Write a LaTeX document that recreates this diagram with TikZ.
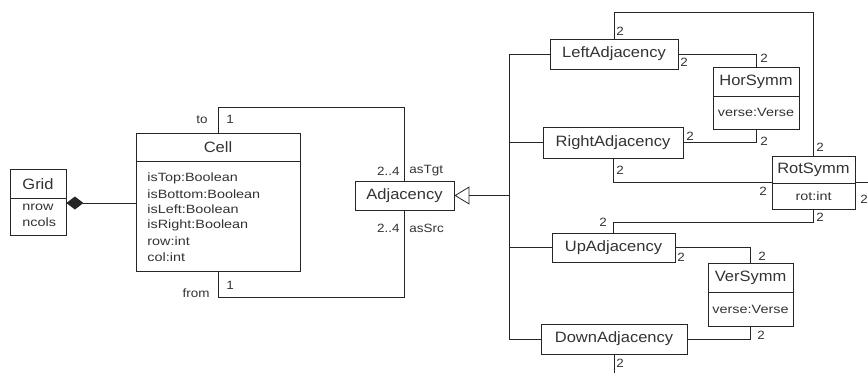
\documentclass[tikz,border=0pt]{standalone}
\usepackage{fontspec}
\setmainfont{Liberation Sans}
\newfontfamily\hdrfont[FakeStretch=1.1]{Liberation Sans}
\newfontfamily\attrfont[FakeStretch=1.2]{Liberation Sans}
\newfontfamily\multfont[FakeStretch=1.12]{Liberation Sans}
\usetikzlibrary{arrows.meta}
\begin{document}
\begin{tikzpicture}[x=1pt,y=-1pt, line width=0.8pt, draw=black!85,
  box/.style={draw, inner sep=0pt, fill=white},
  hdr/.style={font=\hdrfont\fontsize{15}{18}\selectfont, inner sep=0pt, text=black!80},
  attr/.style={font=\attrfont\fontsize{12}{14}\selectfont, inner sep=0pt, anchor=west, text=black!80},
  mult/.style={font=\multfont\fontsize{12}{14}\selectfont, inner sep=0pt, text=black!80},
  conn/.style={draw=black!85, line width=0.8pt}]
\useasboundingbox (0,0) rectangle (868,373);
\fill[white] (0,0) rectangle (868,373);

% ---------- boxes ----------
\node[box, minimum width=56pt, minimum height=66pt] (grid) at (38,202) {};
\node[box, minimum width=164pt, minimum height=138pt] (cell) at (218,202) {};
\node[box, minimum width=99pt, minimum height=29pt] (adj) at (404.5,195.5) {};
\node[box, minimum width=128pt, minimum height=30pt] (leftadj) at (614,54) {};
\node[box, minimum width=140pt, minimum height=31pt] (rightadj) at (613,142.5) {};
\node[box, minimum width=123pt, minimum height=29pt] (upadj) at (613.5,247.5) {};
\node[box, minimum width=146pt, minimum height=30pt] (downadj) at (614,339) {};
\node[box, minimum width=86pt, minimum height=62pt] (horsymm) at (756,98) {};
\node[box, minimum width=83pt, minimum height=53pt] (rotsymm) at (813.5,182.5) {};
\node[box, minimum width=85pt, minimum height=63pt] (versymm) at (750.5,294.5) {};

% compartment dividers
\draw[conn] (grid.west |- 0,198) -- (grid.east |- 0,198);
\draw[conn] (cell.west |- 0,161) -- (cell.east |- 0,161);
\draw[conn] (horsymm.west |- 0,96) -- (horsymm.east |- 0,96);
\draw[conn] (rotsymm.west |- 0,183) -- (rotsymm.east |- 0,183);
\draw[conn] (versymm.west |- 0,292) -- (versymm.east |- 0,292);

% ---------- texts in boxes ----------
\node[hdr] (tgrid) at (38,184) {Grid};
\node[attr] (tnrow) at (22,207) {nrow};
\node[attr] (tncols) at (22,222) {ncols};

\node[hdr] (tcell) at (218,147) {Cell};
\node[attr] (ca1) at (147,178) {isTop:Boolean};
\node[attr] (ca2) at (147,193.8) {isBottom:Boolean};
\node[attr] (ca3) at (147,209.6) {isLeft:Boolean};
\node[attr] (ca4) at (147,225.4) {isRight:Boolean};
\node[attr] (ca5) at (147,241.2) {row:int};
\node[attr] (ca6) at (147,257) {col:int};

\node[hdr] (tadj) at (adj) {Adjacency};
\node[hdr] (tleft) at (leftadj) {LeftAdjacency};
\node[hdr] (tright) at (rightadj) {RightAdjacency};
\node[hdr] (tup) at (upadj) {UpAdjacency};
\node[hdr] (tdown) at (downadj) {DownAdjacency};

\node[hdr] (thor) at (756,81.5) {HorSymm};
\node[attr, anchor=center] (thora) at (756,112.5) {verse:Verse};
\node[hdr] (trot) at (813.5,170) {RotSymm};
\node[attr, anchor=center] (trota) at (813.5,196) {rot:int};
\node[hdr] (tver) at (750.5,277.5) {VerSymm};
\node[attr, anchor=center] (tvera) at (750.5,309) {verse:Verse};

% ---------- connectors ----------
\draw[conn, -{Diamond[length=17pt,width=13pt]}] (cell.west |- 0,203) -- (grid.east |- 0,203);

\draw[conn] (cell.north) -- ++(0,-25) -| (adj.north);
\draw[conn] (cell.south) -- ++(0,26) -| (adj.south);

\coordinate (ttop) at (509,54);
\draw[conn] (leftadj.west) -- (leftadj.west -| ttop) -- (downadj.west -| ttop) -- (downadj.west);
\draw[conn] (rightadj.west) -- (rightadj.west -| ttop);
\draw[conn] (upadj.west) -- (upadj.west -| ttop);
\draw[conn, -{Triangle[open,length=15pt,width=18pt]}] (adj.east -| ttop) -- (adj.east);

\draw[conn] (leftadj.north) -- ++(0,-26) -| (rotsymm.north);
\draw[conn] (leftadj.east) -| (horsymm.north);
\draw[conn] (rightadj.east) -| (horsymm.south);
\draw[conn] (rightadj.south) |- (rotsymm.west);
\draw[conn] (rotsymm.south) -- ++(0,13) -| (upadj.north);
\coordinate (offr) at (868,182.5);
\draw[conn] (rotsymm.east) -- (offr);
\draw[conn] (upadj.east) -| (versymm.north);
\draw[conn] (downadj.east) -| (versymm.south);
\coordinate (offb) at (614,373);
\draw[conn] (downadj.south) -- (offb);

% ---------- role / multiplicity labels ----------
\node[mult, anchor=east] (lto) at (208,120) {to};
\node[mult, anchor=west] (lto1) at (226,119) {1};
\node[mult, anchor=east] (lfrom) at (210,293) {from};
\node[mult, anchor=west] (lfrom1) at (226,285) {1};
\node[mult, anchor=east] (ltgtm) at (400,171) {2..4};
\node[mult, anchor=west] (ltgt) at (409,171) {asTgt};
\node[mult, anchor=east] (lsrcm) at (400,228.5) {2..4};
\node[mult, anchor=west] (lsrc) at (409,228.5) {asSrc};

\node[mult, anchor=west] (m1) at (616,31) {2};
\node[mult, anchor=west] (m2) at (816,147) {2};
\node[mult, anchor=west] (m3) at (680,62) {2};
\node[mult, anchor=west] (m4) at (760,58) {2};
\node[mult, anchor=west] (m5) at (686,136) {2};
\node[mult, anchor=west] (m6) at (760,141) {2};
\node[mult, anchor=west] (m7) at (616,170) {2};
\node[mult] (m8) at (763,191) {2};
\node[mult, anchor=west] (m9) at (816,217) {2};
\node[mult] (m10) at (603,222) {2};
\node[mult, anchor=west] (m11) at (860,199) {2};
\node[mult, anchor=west] (m12) at (677,257) {2};
\node[mult, anchor=west] (m13) at (758,256) {2};
\node[mult, anchor=west] (m14) at (757,335) {2};
\node[mult, anchor=west] (m15) at (616,363) {2};
\end{tikzpicture}
\end{document}
